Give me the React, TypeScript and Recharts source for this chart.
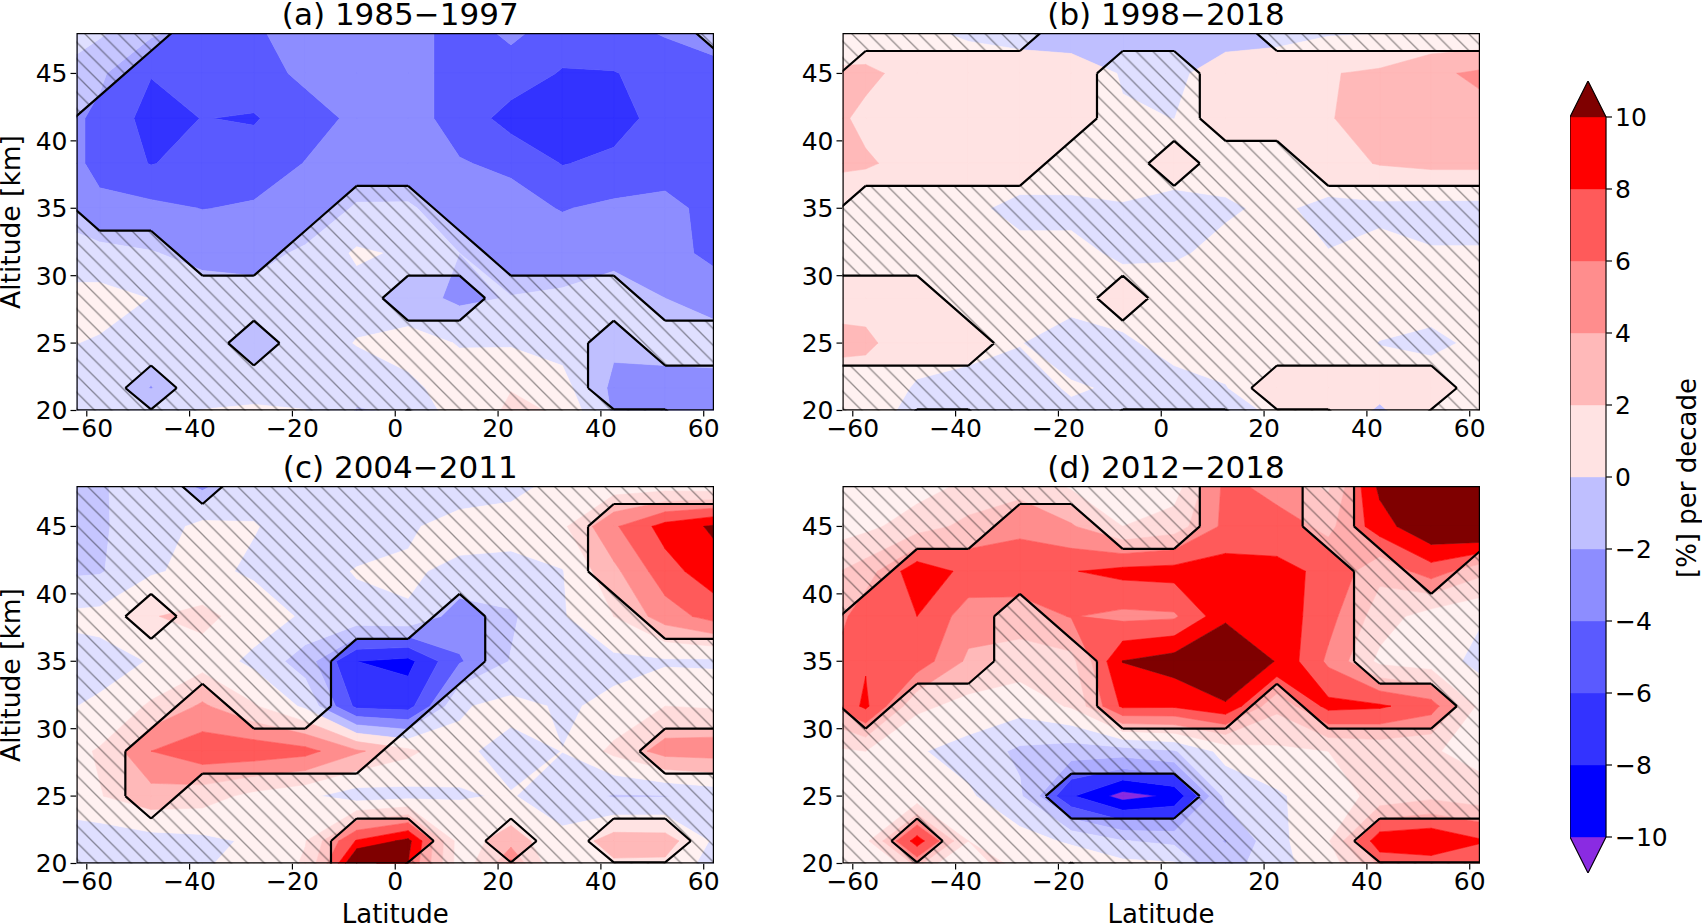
import React from "react";
import { Scatter, ScatterChart, XAxis, YAxis } from "recharts";

// grid the trends were read on, altitude rows run top down
const lats = [-67.5, -57.5, -47.5, -37.5, -27.5, -17.5, -7.5, 2.5, 12.5, 22.5, 32.5, 42.5, 52.5, 62.5];
const alts = [48.33, 45, 41.67, 38.33, 35, 31.67, 28.33, 25, 21.67, 18.5];

const levels = [-10, -8, -6, -4, -2, 0, 2, 4, 6, 8, 10];
const bandColors = ["#8a2be2", "#0000ff", "#3333ff", "#5a5aff", "#8d8dff", "#bfbfff", "#ffe3e3", "#ffb9b9", "#ff8d8d", "#ff5a5a", "#ff0000", "#7f0000"];
const latTicks = [-60, -40, -20, 0, 20, 40, 60];
const altTicks = [20, 25, 30, 35, 40, 45];
const barTicks = [-10, -8, -6, -4, -2, 0, 2, 4, 6, 8, 10];

const valuesA = [
  [-1.5, -1.5, -3.5, -4.6, -4.2, -3.2, -3.3, -3.4, -4.6, -3.6, -4.6, -4.5, -3.7, -3],
  [-2, -3.7, -5.9, -5, -4.6, -3.7, -3.2, -3.4, -4.6, -4.7, -6.2, -6.1, -5.2, -4.6],
  [-3, -4.4, -6.8, -5.95, -6.2, -4.6, -3.7, -3.4, -4.6, -6.9, -7.4, -6.9, -5.1, -5],
  [-2.5, -4.6, -6.1, -5.2, -4.9, -3.95, -3.3, -3.2, -3.9, -4.3, -6.1, -5.5, -4.8, -4.8],
  [-2.2, -3.5, -3.5, -4.05, -3.8, -3.3, -1.8, -1.8, -2.9, -3.4, -4.1, -3.6, -3.5, -4.6],
  [-1.5, -1.5, -1.9, -2.5, -2.6, -1.7, 0.3, -0.3, -2, -3.5, -3, -2.4, -3, -4.8],
  [0.8, 0.8, -0.05, -1.2, -1.4, -1, -0.8, -1.2, -2.4, -1.9, -1.7, -1.4, -2, -2.5],
  [0.3, -0.2, -1.2, -1.6, -1.7, -1.2, 0.1, 0.7, -0.1, -0.2, -0.6, -1.7, -1.6, -1.5],
  [-0.8, -1, -2.05, -0.8, -0.5, -0.4, -1.4, -0.4, 0.8, 1.9, 0.6, -2.4, -2.4, -2.4],
  [-1, -0.8, 0.4, 0.8, 0.8, 0.4, -2.8, -2.6, 0.6, 3, 2.4, -2, -2.1, -3],
];
const signifA = [
  [0, 0, 0, 1, 1, 1, 1, 1, 1, 1, 1, 1, 1, 0],
  [0, 0, 1, 1, 1, 1, 1, 1, 1, 1, 1, 1, 1, 1],
  [0, 1, 1, 1, 1, 1, 1, 1, 1, 1, 1, 1, 1, 1],
  [0, 1, 1, 1, 1, 1, 1, 1, 1, 1, 1, 1, 1, 1],
  [0, 1, 1, 1, 1, 1, 0, 0, 1, 1, 1, 1, 1, 1],
  [0, 0, 0, 1, 1, 0, 0, 0, 0, 1, 1, 1, 1, 1],
  [0, 0, 0, 0, 0, 0, 0, 1, 1, 0, 0, 0, 1, 1],
  [0, 0, 0, 0, 1, 0, 0, 0, 0, 0, 0, 1, 0, 0],
  [0, 0, 1, 0, 0, 0, 0, 0, 0, 0, 0, 1, 1, 1],
  [0, 0, 0, 0, 0, 0, 0, 1, 0, 0, 0, 0, 0, 1],
];

const valuesB = [
  [0.4, 0.4, 0.2, -0.4, -0.7, -1, -1.2, -1.3, -1, -0.5, -0.4, -0.3, -0.1, -0.1],
  [2.3, 2.4, 1.3, 1, 0.8, 0.8, -0.1, -0.4, 0.9, 0.7, 1.9, 2.3, 3.6, 4.4],
  [2.9, 1.6, 1.1, 1, 0.9, 0.9, 0.12, -0.01, 0.8, 1, 1.9, 2.7, 3, 3.4],
  [2.6, 2.2, 1.4, 1.1, 0.9, 0.7, 0.6, 0.7, 0.6, 0.8, 1.4, 2.1, 2.4, 2.4],
  [0.5, 0.6, 0.4, 0.3, -0.4, -0.3, -0.1, -0.5, -0.2, 0.3, -0.5, -0.4, -0.5, -0.5],
  [0.7, 0.8, 0.8, 0.8, 0.4, 0.3, -0.2, -0.2, 0.4, 0.5, 0.05, 0.5, 0.1, 0.1],
  [1.2, 1.1, 0.6, 0.6, 0.5, 0.5, 0.6, 0.8, 0.7, 0.8, 0.7, 0.8, 0.7, 0.9],
  [2.8, 2.5, 0.4, 0.7, 0.05, -0.7, -0.2, 0.4, 0.5, 0.6, 0.9, -0.05, -0.4, 0.4],
  [0.7, 0.6, -0.1, -0.7, -0.6, 0.15, -0.2, -0.4, -0.05, 0.9, 1, 0.9, 1, 0.9],
  [0.7, 0.4, -0.7, -0.8, -0.7, -0.6, -0.7, -0.7, -0.5, -0.2, 0.8, -1.5, 1, 0.9],
];
const signifB = [
  [0, 0, 0, 0, 0, 1, 1, 1, 1, 0, 0, 0, 0, 0],
  [0, 1, 1, 1, 1, 1, 0, 0, 1, 1, 1, 1, 1, 1],
  [1, 1, 1, 1, 1, 1, 0, 0, 1, 1, 1, 1, 1, 1],
  [1, 1, 1, 1, 1, 0, 0, 1, 0, 0, 1, 1, 1, 1],
  [1, 0, 0, 0, 0, 0, 0, 0, 0, 0, 0, 0, 0, 0],
  [0, 0, 0, 0, 0, 0, 0, 0, 0, 0, 0, 0, 0, 0],
  [1, 1, 1, 0, 0, 0, 1, 0, 0, 0, 0, 0, 0, 0],
  [1, 1, 1, 1, 0, 0, 0, 0, 0, 0, 0, 0, 0, 0],
  [0, 0, 0, 0, 0, 0, 0, 0, 0, 1, 1, 1, 1, 0],
  [0, 0, 1, 1, 0, 0, 1, 1, 1, 0, 0, 1, 0, 0],
];

const valuesC = [
  [-2.6, -2.2, -1.1, -2.6, -0.8, -1, -1, -0.9, -1.5, -0.5, 0.3, 0.4, 0.2, -0.3],
  [-2.6, -2.3, -0.8, 0.4, 0.1, -0.8, -0.9, -0.3, 0.9, 0.6, 1.6, 5.7, 8.8, 10.4],
  [-2.4, -2.2, -0.2, 0.5, -0.3, -0.7, 0.1, 0.3, -0.5, -0.5, -0.1, 3.5, 7.2, 9.3],
  [0.3, 0.6, 1.9, 2.5, 1.1, -0.3, -0.5, -0.2, -3, -2.3, -0.2, 2, 5, 6.9],
  [-1, -0.7, 0.1, 1.2, -0.5, -3, -8, -8.6, -4.2, -1.9, -0.5, -0.5, -0.3, -0.4],
  [-0.4, 0.3, 2.3, 4.3, 2.2, -0.4, -6.5, -6.8, -0.2, 0.6, -0.25, 0.4, 2, 1.8],
  [0.8, 2.2, 6, 7.3, 7.3, 6.7, 4.3, 2.5, 0.4, -0.7, 0.02, 2.5, 4.8, 5],
  [1.2, 1.9, 3.2, 2.9, 1.4, 0.4, -1, -0.7, -0.1, 0.1, -0.8, -2.2, -2.1, -1.3],
  [-1.6, -1.3, -0.8, -0.5, 0.3, 1.9, 8.2, 10.6, 1, 3, 0.4, 3, 2.9, -0.5],
  [-1.6, -1.2, -0.3, 0.1, 0.6, 2.6, 18, 9.4, 1, 10, 0.2, 0.5, 0.5, -0.8],
];
const signifC = [
  [0, 0, 0, 1, 0, 0, 0, 0, 0, 0, 0, 0, 0, 0],
  [0, 0, 0, 0, 0, 0, 0, 0, 0, 0, 0, 1, 1, 1],
  [0, 0, 0, 0, 0, 0, 0, 0, 0, 0, 0, 1, 1, 1],
  [0, 0, 1, 0, 0, 0, 0, 0, 1, 0, 0, 0, 1, 1],
  [0, 0, 0, 0, 0, 0, 1, 1, 1, 0, 0, 0, 0, 0],
  [0, 0, 0, 1, 0, 0, 1, 1, 0, 0, 0, 0, 0, 0],
  [0, 0, 1, 1, 1, 1, 1, 0, 0, 0, 0, 0, 1, 1],
  [0, 0, 1, 0, 0, 0, 0, 0, 0, 0, 0, 0, 0, 0],
  [0, 0, 0, 0, 0, 0, 1, 1, 0, 1, 0, 1, 1, 0],
  [0, 0, 0, 0, 0, 0, 1, 0, 0, 0, 0, 0, 0, 0],
];

const valuesD = [
  [-0.6, 0.5, 1, 2.2, 3, 1.5, -0.1, 0.8, 6.5, 4.9, 3.5, 10.7, 14, 14],
  [1, 1.5, 3, 4.6, 5.5, 4.2, 2, 3, 6.5, 7, 5.5, 9, 12, 13],
  [3, 5, 9.4, 7.4, 7.3, 7.9, 8.6, 8.8, 9, 8.5, 7.6, 4.5, 7, 4.5],
  [3.5, 7.3, 8, 5, 5, 6.1, 5.5, 5.7, 9.4, 9.3, 6.7, 3, 1, 0.1],
  [5, 7.8, 7.2, 3.6, 3, 3.4, 10.05, 11, 13.5, 9.8, 5.6, 1.5, 0.9, -0.6],
  [5, 8.4, 2.4, 1.4, 0.8, 2.2, 8.4, 8.3, 9.6, 4.5, 8.6, 8.3, 6.9, 1.2],
  [1.5, 2, 0.2, -0.8, -2.4, -3, -3, -2.2, 0.7, 1.6, 2, 2.5, 2.2, 1.2],
  [1.3, 1.8, 0.6, 0.3, -1.7, -7.8, -10.8, -9.6, -1.5, -0.3, 1.2, 2.5, 3.5, 2.8],
  [1, 1.5, 9, 2, 0.8, -0.3, -1.9, -2.5, -4.1, -0.6, 1.8, 9.4, 9.8, 8.2],
  [0.8, 1, 1, 0.3, 2.4, 2.8, 2.6, 2.6, -2.5, -0.4, 0.5, 4, 4.5, 4],
];
const signifD = [
  [0, 0, 0, 0, 0, 0, 0, 0, 1, 1, 0, 1, 1, 1],
  [0, 0, 0, 0, 1, 1, 0, 0, 1, 1, 0, 1, 1, 1],
  [0, 0, 1, 1, 1, 1, 1, 1, 1, 1, 1, 0, 1, 0],
  [0, 1, 1, 1, 0, 1, 1, 1, 1, 1, 1, 0, 0, 0],
  [0, 1, 1, 1, 0, 0, 1, 1, 1, 1, 1, 0, 0, 0],
  [0, 1, 0, 0, 0, 0, 1, 1, 1, 0, 1, 1, 1, 0],
  [0, 0, 0, 0, 0, 0, 0, 0, 0, 0, 0, 0, 0, 0],
  [0, 0, 0, 0, 0, 1, 1, 1, 0, 0, 0, 0, 0, 0],
  [0, 0, 1, 0, 0, 0, 0, 0, 0, 0, 0, 1, 1, 1],
  [0, 0, 0, 0, 0, 1, 0, 0, 0, 0, 0, 0, 0, 0],
];

const FONT = "'DejaVu Sans', sans-serif";
const PLOT_W = 637.5;
const PLOT_H = 377.5;
const Y_W = 76.5;
const HATCH = 16.67;

type Vert = { x: number; y: number; v: number };
type Rings = { verts: { x: number; y: number }[]; sizes: number[] };

const minus = (t: number) => String(t).replace("-", "\u2212");

// keep the part of a polygon on one side of a level, v is linear along edges
function clipLevel(poly: Vert[], level: number, above: boolean) {
  const out: Vert[] = [];
  poly.forEach((a, i) => {
    const b = poly[(i + 1) % poly.length];
    const inA = above ? a.v >= level : a.v <= level;
    const inB = above ? b.v >= level : b.v <= level;
    if (inA) out.push(a);
    if (inA !== inB) {
      const t = (level - a.v) / (b.v - a.v);
      out.push({ x: a.x + t * (b.x - a.x), y: a.y + t * (b.y - a.y), v: level });
    }
  });
  return out;
}

function eachCell(grid: number[][], fn: (cell: Vert[]) => void) {
  for (let r = 0; r < alts.length - 1; r++) {
    for (let c = 0; c < lats.length - 1; c++) {
      fn([
        { x: lats[c], y: alts[r], v: grid[r][c] },
        { x: lats[c + 1], y: alts[r], v: grid[r][c + 1] },
        { x: lats[c + 1], y: alts[r + 1], v: grid[r + 1][c + 1] },
        { x: lats[c], y: alts[r + 1], v: grid[r + 1][c] },
      ]);
    }
  }
}

function bandRings(grid: number[][], lo: number, hi: number): Rings {
  const rings: Rings = { verts: [], sizes: [] };
  eachCell(grid, (cell) => {
    let poly = cell;
    if (lo > -Infinity) poly = clipLevel(poly, lo, true);
    if (poly.length && hi < Infinity) poly = clipLevel(poly, hi, false);
    if (poly.length >= 3) {
      poly.forEach((p) => rings.verts.push({ x: p.x, y: p.y }));
      rings.sizes.push(poly.length);
    }
  });
  return rings;
}

// contour of the significance grid at 0.5
function outlineRings(grid: number[][]): Rings {
  const rings: Rings = { verts: [], sizes: [] };
  eachCell(grid, (cell) => {
    const cross: { x: number; y: number }[] = [];
    cell.forEach((a, i) => {
      const b = cell[(i + 1) % 4];
      if (a.v > 0.5 !== b.v > 0.5) cross.push({ x: (a.x + b.x) / 2, y: (a.y + b.y) / 2 });
    });
    for (let i = 0; i + 1 < cross.length; i += 2) {
      rings.verts.push(cross[i], cross[i + 1]);
      rings.sizes.push(2);
    }
  });
  return rings;
}

function pathFrom(points: { x: number; y: number }[], sizes: number[], close: boolean) {
  let at = 0;
  let d = "";
  sizes.forEach((n) => {
    points.slice(at, at + n).forEach((p, i) => {
      d += `${i ? "L" : "M"}${p.x.toFixed(2)} ${p.y.toFixed(2)}`;
    });
    if (close) d += "Z";
    at += n;
  });
  return d;
}

const noDot = () => null;

// Scatter hands its points to `line` after they went through the axis scales
function shapeSeries(key: string, rings: Rings, draw: (d: string) => React.ReactElement, close = true) {
  if (!rings.sizes.length) return null;
  return (
    <Scatter
      key={key}
      data={rings.verts}
      isAnimationActive={false}
      shape={noDot}
      line={(p: any) => draw(pathFrom(p.points, rings.sizes, close))}
    />
  );
}

function Caption({ text, x, y, size, rotate }: any) {
  return (
    <div
      style={{
        position: "absolute",
        left: x,
        top: y,
        transform: `translate(-50%, -50%)${rotate ? " rotate(-90deg)" : ""}`,
        font: `${size}px ${FONT}`,
        lineHeight: "1",
        whiteSpace: "nowrap",
        color: "#000",
      }}
    >
      {text}
    </div>
  );
}

function Panel({ id, title, values, signif, left, top, yLabel, xLabel }: any) {
  const bands = bandColors.map((color, i) => ({
    color,
    rings: bandRings(values, i === 0 ? -Infinity : levels[i - 1], i === levels.length ? Infinity : levels[i]),
  }));
  const hatched = bandRings(signif, -Infinity, 0.5);
  const outline = outlineRings(signif);
  const frame: Rings = {
    verts: [{ x: -62, y: 20 }, { x: 62, y: 20 }, { x: 62, y: 48 }, { x: -62, y: 48 }],
    sizes: [4],
  };
  const centre = left + Y_W + PLOT_W / 2;
  const phase = (1.6 - left + top).toFixed(2);
  return (
    <>
      <Caption text={title} x={centre + 5} y={top - 19} size={31} />
      {xLabel && <Caption text="Latitude" x={centre} y={914} size={26} />}
      {yLabel && <Caption text="Altitude [km]" x={10.5} y={top + PLOT_H / 2 + 1} size={26.5} rotate />}
      <div style={{ position: "absolute", left, top }}>
        <ScatterChart
          width={Y_W + PLOT_W + 24}
          height={PLOT_H + 40}
          margin={{ top: 0, right: 24, bottom: 0, left: 0 }}
        >
          <XAxis
            type="number"
            dataKey="x"
            domain={[-62, 62]}
            ticks={latTicks}
            allowDataOverflow
            interval={0}
            height={40}
            axisLine={false}
            tickSize={6}
            tickMargin={3}
            tickLine={{ stroke: "#000", strokeWidth: 1.2 }}
            tick={{ fill: "#000", fontSize: 25, fontFamily: FONT }}
            tickFormatter={minus}
          />
          <YAxis
            type="number"
            dataKey="y"
            domain={[20, 48]}
            ticks={altTicks}
            allowDataOverflow
            interval={0}
            width={Y_W}
            axisLine={false}
            tickSize={6}
            tickMargin={3}
            tickLine={{ stroke: "#000", strokeWidth: 1.2 }}
            tick={{ fill: "#000", fontSize: 25, fontFamily: FONT }}
          />
          {bands.map((b, i) =>
            shapeSeries(`band${i}`, b.rings, (d) => <path d={d} fill={b.color} stroke={b.color} strokeWidth={0.6} />)
          )}
          {shapeSeries("veil", hatched, (d) => <path d={d} fill="#fff" fillOpacity={0.5} />)}
          {shapeSeries("hatch", hatched, (d) => (
            <g>
              <defs>
                <pattern
                  id={`hatch${id}`}
                  patternUnits="userSpaceOnUse"
                  width={HATCH}
                  height={HATCH}
                  patternTransform={`translate(${phase} 0)`}
                >
                  <path
                    d={`M-2 -2L${HATCH + 2} ${HATCH + 2}M-2 ${HATCH - 2}L2 ${HATCH + 2}M${HATCH - 2} -2L${HATCH + 2} 2`}
                    stroke="#000"
                    strokeOpacity={0.42}
                    strokeWidth={1.3}
                  />
                </pattern>
              </defs>
              <path d={d} fill={`url(#hatch${id})`} />
            </g>
          ))}
          {shapeSeries("outline", outline, (d) => <path d={d} fill="none" stroke="#000" strokeWidth={2.2} strokeLinejoin="round" />, false)}
          {shapeSeries("frame", frame, (d) => <path d={d} fill="none" stroke="#000" strokeWidth={2.4} />)}
        </ScatterChart>
      </div>
    </>
  );
}

function Colorbar() {
  const series = bandColors.map((color, i) => {
    const lo = i === 0 ? -10 : levels[i - 1];
    const hi = i === levels.length ? 10 : levels[i];
    let verts = [{ x: 0, y: lo }, { x: 1, y: lo }, { x: 1, y: hi }, { x: 0, y: hi }];
    if (i === 0) verts = [{ x: 0, y: -10 }, { x: 0.5, y: -11 }, { x: 1, y: -10 }];
    if (i === levels.length) verts = [{ x: 0, y: 10 }, { x: 0.5, y: 11 }, { x: 1, y: 10 }];
    return { color, rings: { verts, sizes: [verts.length] } };
  });
  const edge: Rings = {
    verts: [{ x: 0, y: 10 }, { x: 0.5, y: 11 }, { x: 1, y: 10 }, { x: 1, y: -10 }, { x: 0.5, y: -11 }, { x: 0, y: -10 }],
    sizes: [6],
  };
  return (
    <>
      <Caption text="[%] per decade" x={1687} y={478} size={26} rotate />
      <div style={{ position: "absolute", left: 1570, top: 80.6 }}>
        <ScatterChart width={106} height={792} margin={{ top: 0, right: 0, bottom: 0, left: 0 }}>
          <XAxis type="number" dataKey="x" domain={[0, 1]} hide />
          <YAxis
            type="number"
            dataKey="y"
            orientation="right"
            domain={[-11, 11]}
            ticks={barTicks}
            interval={0}
            width={70}
            axisLine={false}
            tickSize={6}
            tickMargin={3}
            tickLine={{ stroke: "#000", strokeWidth: 1.2 }}
            tick={{ fill: "#000", fontSize: 25, fontFamily: FONT }}
            tickFormatter={minus}
          />
          {series.map((b, i) =>
            shapeSeries(`bar${i}`, b.rings, (d) => <path d={d} fill={b.color} stroke={b.color} strokeWidth={0.4} />)
          )}
          {shapeSeries("edge", edge, (d) => <path d={d} fill="none" stroke="#000" strokeWidth={1.1} />)}
        </ScatterChart>
      </div>
    </>
  );
}

export default function App() {
  return (
    <div style={{ position: "absolute", left: 0, top: 0, width: 1702, height: 924, overflow: "hidden" }}>
      <Panel id="a" title="(a) 1985−1997" values={valuesA} signif={signifA} left={0} top={32.5} yLabel />
      <Panel id="b" title="(b) 1998−2018" values={valuesB} signif={signifB} left={765.8} top={32.5} />
      <Panel id="c" title="(c) 2004−2011" values={valuesC} signif={signifC} left={0} top={485.7} yLabel xLabel />
      <Panel id="d" title="(d) 2012−2018" values={valuesD} signif={signifD} left={765.8} top={485.7} xLabel />
      <Colorbar />
    </div>
  );
}
